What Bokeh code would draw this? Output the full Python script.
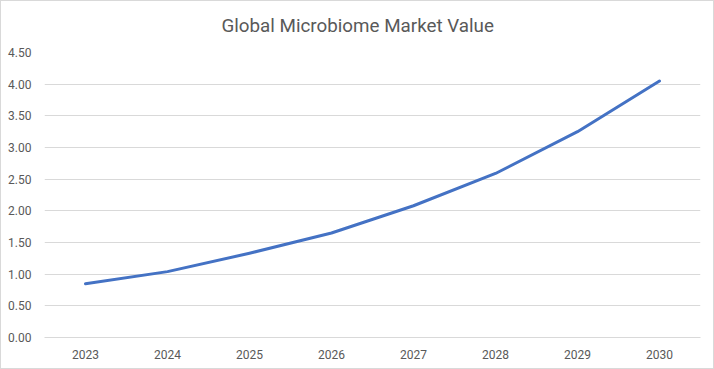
from bokeh.plotting import figure
from bokeh.models import Range1d, FactorRange, FixedTicker, NumeralTickFormatter, ColumnDataSource
from bokeh.embed import file_html
from bokeh.resources import INLINE

years = ["2023", "2024", "2025", "2026", "2027", "2028", "2029", "2030"]
market_value = [0.85, 1.04, 1.33, 1.65, 2.08, 2.59, 3.25, 4.05]
y_ticks = [0.0, 0.5, 1.0, 1.5, 2.0, 2.5, 3.0, 3.5, 4.0, 4.5]
title_text = "Global Microbiome Market Value"

src = ColumnDataSource(dict(x=years, y=market_value))

p = figure(width=714, height=369, output_backend="svg", toolbar_location=None,
           x_range=FactorRange(*years, range_padding=0), y_range=Range1d(0, 4.5),
           min_border_left=43, min_border_right=15, min_border_top=50, min_border_bottom=33,
           title=title_text)

p.line("x", "y", source=src, line_color="#4472C4", line_width=3, line_cap="round", line_join="round")

p.title.align = "left"
p.title.offset = 177
p.title.vertical_align = "top"
p.title.text_font = "Roboto"
p.title.text_font_size = "18.8px"
p.title.text_font_style = "normal"
p.title.text_color = "#595959"
p.title.standoff = 27

p.outline_line_color = None
p.background_fill_color = "white"
p.border_fill_color = "white"

p.yaxis.ticker = FixedTicker(ticks=y_ticks)
p.yaxis.formatter = NumeralTickFormatter(format="0.00")
p.yaxis.axis_line_color = None
p.yaxis.major_tick_line_color = None
p.yaxis.minor_tick_line_color = None
p.yaxis.major_label_standoff = 7

p.xaxis.axis_line_color = "#d9d9d9"
p.xaxis.axis_line_width = 1
p.xaxis.major_tick_line_color = None
p.xaxis.minor_tick_line_color = None
p.xaxis.major_label_standoff = 6

for ax in (p.xaxis, p.yaxis):
    ax.major_label_text_font = "Roboto"
    ax.major_label_text_font_size = "12px"
    ax.major_label_text_color = "#595959"

p.xgrid.grid_line_color = None
p.ygrid.grid_line_color = "#d9d9d9"
p.ygrid.grid_line_width = 1
p.ygrid.ticker = FixedTicker(ticks=y_ticks)

p.styles = {"border": "1px solid #d9d9d9", "box-sizing": "border-box"}

open("out.html", "w").write(file_html(p, INLINE))
